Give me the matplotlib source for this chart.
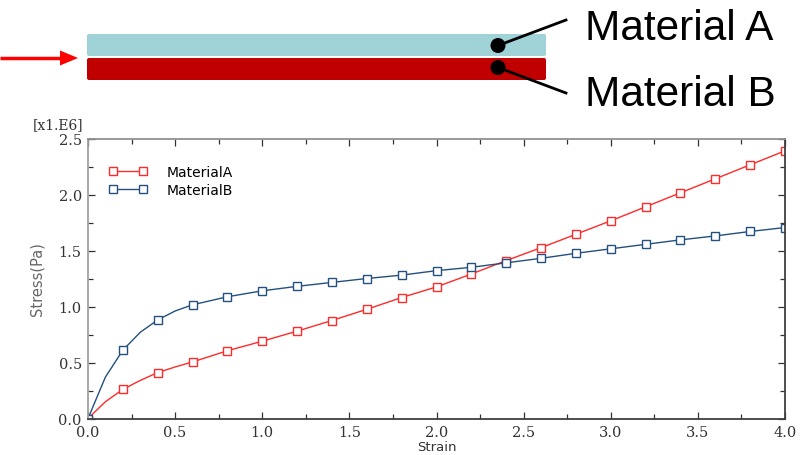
import matplotlib
matplotlib.use("Agg")
import matplotlib.pyplot as plt
from matplotlib.patches import FancyBboxPatch, Circle, Polygon
from matplotlib.ticker import MultipleLocator, FormatStrFormatter

# Stress-strain data (stress in units of 1e6 Pa)
strain = [0.0, 0.1, 0.2, 0.3, 0.4, 0.5, 0.6, 0.8, 1.0, 1.2, 1.4, 1.6, 1.8, 2.0,
          2.2, 2.4, 2.6, 2.8, 3.0, 3.2, 3.4, 3.6, 3.8, 4.0]
stress_a = [0.0, 0.15, 0.26, 0.34, 0.41, 0.46, 0.505, 0.605, 0.69, 0.78, 0.875,
            0.975, 1.08, 1.175, 1.29, 1.41, 1.525, 1.645, 1.765, 1.89, 2.015,
            2.14, 2.265, 2.39]
stress_b = [0.0, 0.37, 0.61, 0.77, 0.88, 0.96, 1.015, 1.087, 1.14, 1.18, 1.215,
            1.25, 1.28, 1.32, 1.35, 1.39, 1.43, 1.475, 1.515, 1.555, 1.595,
            1.63, 1.67, 1.705]
series_labels = ["MaterialA", "MaterialB"]
layer_labels = ["Material A", "Material B"]

# markers on every 0.2 strain step
marker_idx = [i for i, s in enumerate(strain) if abs(round(s / 0.2) * 0.2 - s) < 1e-9]

W, H = 810, 456
fig = plt.figure(figsize=(W / 100, H / 100), dpi=100)

# ---- schematic of the two-layer strip (pixel coordinates) ----
sk = fig.add_axes([0, 0, 1, 1])
sk.set_xlim(0, W)
sk.set_ylim(H, 0)
sk.axis("off")

sk.add_patch(FancyBboxPatch((87, 35), 459, 22, boxstyle="round,pad=0,rounding_size=2",
                            fc="#9fd3d8", ec="none"))
sk.add_patch(FancyBboxPatch((87, 59), 459, 22, boxstyle="round,pad=0,rounding_size=2",
                            fc="#c00000", ec="none"))
# push arrow
sk.plot([0, 62], [59, 59], color="#ff0000", lw=2.5, solid_capstyle="butt")
sk.add_patch(Polygon([[60, 51.5], [78, 59], [60, 66.5]], closed=True, fc="#ff0000", ec="none"))
# leader lines and dots
sk.plot([498, 566], [46.5, 21], color="black", lw=2)
sk.plot([498, 566], [68.5, 94], color="black", lw=2)
sk.add_patch(Circle((498, 46.5), 7.5, fc="black", ec="none"))
sk.add_patch(Circle((498, 68.5), 7.5, fc="black", ec="none"))
sk.text(585, 40, layer_labels[0], fontsize=30.5, family="Liberation Sans",
        va="baseline", ha="left", color="black")
sk.text(585, 106.5, layer_labels[1], fontsize=30.5, family="Liberation Sans",
        va="baseline", ha="left", color="black")

# ---- stress-strain chart ----
left, right, top, bottom = 88, 785, 139.5, 419.5
ax = fig.add_axes([left / W, 1 - bottom / H, (right - left) / W, (bottom - top) / H])

col_a = "#ff2a2a"
col_b = "#24507f"
ax.plot(strain, stress_a, color=col_a, lw=1.0, marker="s", ms=5.5, mfc="white",
        mec=col_a, mew=1.0, markevery=marker_idx, label=series_labels[0])
ax.plot(strain, stress_b, color=col_b, lw=1.0, marker="s", ms=5.5, mfc="white",
        mec=col_b, mew=1.0, markevery=marker_idx, label=series_labels[1])

ax.set_xlim(0, 4.0)
ax.set_ylim(0, 2.5)
ax.xaxis.set_major_locator(MultipleLocator(0.5))
ax.xaxis.set_minor_locator(MultipleLocator(0.25))
ax.yaxis.set_major_locator(MultipleLocator(0.5))
ax.yaxis.set_minor_locator(MultipleLocator(0.25))
ax.xaxis.set_major_formatter(FormatStrFormatter("%.1f"))
ax.yaxis.set_major_formatter(FormatStrFormatter("%.1f"))
ax.tick_params(which="both", direction="in", top=True, right=True, color="#333333")
ax.tick_params(which="major", length=5, width=0.9, pad=4.5)
ax.tick_params(which="minor", length=3.5, width=0.9)
for lab in ax.get_xticklabels() + ax.get_yticklabels():
    lab.set_family("DejaVu Serif")
    lab.set_fontsize(10.5)
    lab.set_color("#333333")

ax.spines["left"].set_color("#a0a0a0")
ax.spines["top"].set_color("#909090")
ax.spines["bottom"].set_color("#404040")
ax.spines["right"].set_color("#404040")
for s in ax.spines.values():
    s.set_linewidth(1.3)

ax.set_xlabel("Strain", fontsize=9.5, family="DejaVu Sans", color="#333333", labelpad=1)
ax.set_ylabel("Stress(Pa)", fontsize=10.5, family="DejaVu Sans", color="#666666", labelpad=10)
ax.annotate("[x1.E6]", xy=(0, 1), xycoords="axes fraction", xytext=(-5, 14),
            textcoords="offset pixels", ha="right", va="center",
            family="DejaVu Serif", fontsize=10, color="#333333")

ax.legend(loc="upper left", bbox_to_anchor=(0.03, 0.905), frameon=False, numpoints=2,
          handlelength=2.75, handletextpad=1.4, labelspacing=0.3, borderpad=0,
          borderaxespad=0, prop={"family": "DejaVu Sans", "size": 10})

fig.savefig("out.png", dpi=100)
